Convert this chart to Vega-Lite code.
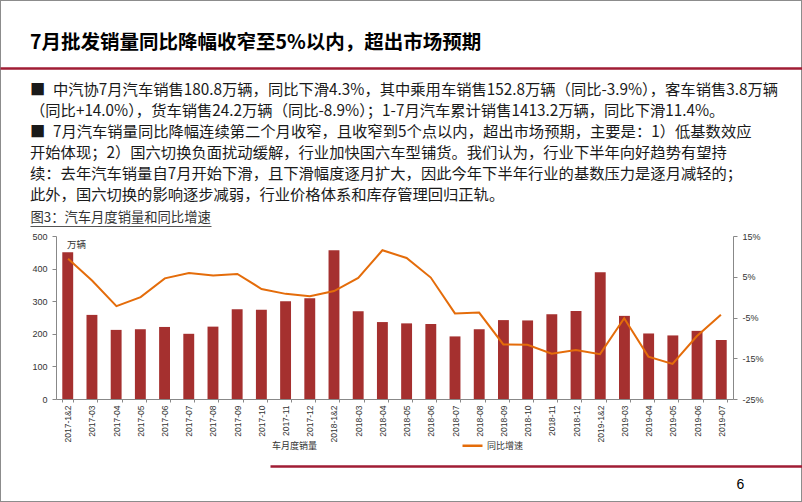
{
  "$schema": "https://vega.github.io/schema/vega-lite/v6.json",
  "width": 802,
  "height": 502,
  "autosize": {"type": "none"},
  "padding": 0,
  "background": "white",
  "config": {
    "view": {"stroke": "#8c8c8c", "strokeWidth": 2},
    "axis": {"grid": false}
  },
  "title": {
    "text": "7月批发销量同比降幅收窄至5%以内，超出市场预期",
    "subtitle": [
      "■\u2002中汽协7月汽车销售180.8万辆，同比下滑4.3%，其中乘用车销售152.8万辆（同比-3.9%），客车销售3.8万辆",
      "\u3000\u2009（同比+14.0%），货车销售24.2万辆（同比-8.9%）；1-7月汽车累计销售1413.2万辆，同比下滑11.4%。",
      "■\u20027月汽车销量同比降幅连续第二个月收窄，且收窄到5个点以内，超出市场预期，主要是：1）低基数效应",
      "\u3000\u2002开始体现；2）国六切换负面扰动缓解，行业加快国六车型铺货。我们认为，行业下半年向好趋势有望持",
      "\u3000\u2002续：去年汽车销量自7月开始下滑，且下滑幅度逐月扩大，因此今年下半年行业的基数压力是逐月减轻的；",
      "\u3000\u2002此外，国六切换的影响逐步减弱，行业价格体系和库存管理回归正轨。"
    ],
    "anchor": "start",
    "frame": "group",
    "orient": "top",
    "offset": 0,
    "dx": 30,
    "dy": 204,
    "font": "Noto Sans CJK SC",
    "fontSize": 19.5,
    "fontWeight": "bold",
    "color": "#000000",
    "subtitleFont": "Noto Sans CJK SC",
    "subtitleFontSize": 15.3,
    "subtitleColor": "#1a1a1a",
    "subtitlePadding": 29,
    "subtitleLineHeight": 21
  },
  "data": {
    "values": [
      {"month": "2017-1&2", "sales": 450, "yoy": 9.4},
      {"month": "2017-03", "sales": 258, "yoy": 4.0},
      {"month": "2017-04", "sales": 212, "yoy": -2.2},
      {"month": "2017-05", "sales": 214, "yoy": 0.0},
      {"month": "2017-06", "sales": 221, "yoy": 4.6},
      {"month": "2017-07", "sales": 200, "yoy": 5.9},
      {"month": "2017-08", "sales": 222, "yoy": 5.3},
      {"month": "2017-09", "sales": 275, "yoy": 5.7},
      {"month": "2017-10", "sales": 274, "yoy": 2.0},
      {"month": "2017-11", "sales": 300, "yoy": 0.8},
      {"month": "2017-12", "sales": 309, "yoy": 0.2},
      {"month": "2018-1&2", "sales": 456, "yoy": 1.5},
      {"month": "2018-03", "sales": 269, "yoy": 4.7},
      {"month": "2018-04", "sales": 236, "yoy": 11.5},
      {"month": "2018-05", "sales": 232, "yoy": 9.6},
      {"month": "2018-06", "sales": 230, "yoy": 4.8},
      {"month": "2018-07", "sales": 192, "yoy": -4.0},
      {"month": "2018-08", "sales": 214, "yoy": -3.8},
      {"month": "2018-09", "sales": 242, "yoy": -11.6},
      {"month": "2018-10", "sales": 241, "yoy": -11.7},
      {"month": "2018-11", "sales": 260, "yoy": -13.9},
      {"month": "2018-12", "sales": 270, "yoy": -13.0},
      {"month": "2019-1&2", "sales": 389, "yoy": -14.0},
      {"month": "2019-03", "sales": 255, "yoy": -5.2},
      {"month": "2019-04", "sales": 201, "yoy": -14.6},
      {"month": "2019-05", "sales": 195, "yoy": -16.4},
      {"month": "2019-06", "sales": 209, "yoy": -9.6},
      {"month": "2019-07", "sales": 181, "yoy": -4.3}
    ]
  },
  "resolve": {
    "scale": {"x": "independent", "y": "independent"},
    "axis": {"x": "independent", "y": "independent"}
  },
  "layer": [
    {
      "mark": {"type": "bar", "color": "#a5302f"},
      "encoding": {
        "x": {
          "field": "month",
          "type": "ordinal",
          "sort": null,
          "scale": {"range": [56, 733], "paddingInner": 0.55, "paddingOuter": 0.26},
          "axis": {
            "orient": "bottom",
            "offset": -103,
            "title": null,
            "labelAngle": -90,
            "labelFont": "Liberation Sans",
            "labelFontSize": 8.5,
            "labelColor": "#333333",
            "labelPadding": 3,
            "tickBand": "extent",
            "tickSize": 3,
            "tickColor": "#888888",
            "domainColor": "#888888"
          }
        },
        "y": {
          "field": "sales",
          "type": "quantitative",
          "scale": {"domain": [0, 500], "range": [399, 236], "nice": false},
          "axis": {
            "orient": "left",
            "offset": -56,
            "values": [0, 100, 200, 300, 400, 500],
            "labelFont": "Liberation Sans",
            "labelFontSize": 9,
            "labelColor": "#333333",
            "labelPadding": 5,
            "tickSize": 4,
            "tickColor": "#888888",
            "domainColor": "#888888",
            "title": "万辆",
            "titleAngle": 0,
            "titleX": 20,
            "titleY": 244,
            "titleAlign": "center",
            "titleBaseline": "middle",
            "titleFont": "Noto Sans CJK SC",
            "titleFontSize": 9.5,
            "titleFontWeight": "normal",
            "titleColor": "#333333"
          }
        }
      }
    },
    {
      "mark": {"type": "line", "strokeWidth": 2},
      "encoding": {
        "x": {
          "field": "month",
          "type": "ordinal",
          "sort": null,
          "scale": {"range": [56, 733], "paddingInner": 0.55, "paddingOuter": 0.26},
          "axis": null
        },
        "y": {
          "field": "yoy",
          "type": "quantitative",
          "scale": {"domain": [-25, 15], "range": [399, 236], "nice": false},
          "axis": {
            "orient": "right",
            "offset": -69,
            "values": [-25, -15, -5, 5, 15],
            "labelExpr": "datum.value + '%'",
            "labelFont": "Liberation Sans",
            "labelFontSize": 9,
            "labelColor": "#333333",
            "labelPadding": 5,
            "tickSize": 4,
            "tickColor": "#888888",
            "domainColor": "#888888",
            "title": null
          }
        },
        "color": {
          "datum": "同比增速",
          "type": "nominal",
          "scale": {"domain": ["车月度销量", "同比增速"], "range": ["#a5302f", "#e46c0a"]},
          "legend": {
            "title": null,
            "orient": "none",
            "legendX": 246,
            "legendY": 434,
            "direction": "horizontal",
            "symbolType": "stroke",
            "symbolSize": 400,
            "symbolStrokeWidth": 2.5,
            "labelFont": "Noto Sans CJK SC",
            "labelFontSize": 9,
            "labelColor": "#333333",
            "labelOffset": 3,
            "columnPadding": 139,
            "padding": 0,
            "encode": {
              "symbols": {"update": {"opacity": {"signal": "datum.value === '车月度销量' ? 0 : 1"}}}
            }
          }
        }
      }
    },
    {
      "data": {"values": [{"k": 0}]},
      "mark": {"type": "point", "opacity": 0},
      "encoding": {
        "x": {
          "field": "k",
          "type": "quantitative",
          "scale": {"domain": [0, 1], "range": [0, 802]},
          "axis": {
            "orient": "top",
            "offset": -68,
            "domain": true,
            "domainColor": "#a01d34",
            "domainWidth": 2.5,
            "ticks": false,
            "labels": false,
            "grid": false,
            "title": null
          }
        }
      }
    },
    {
      "data": {"values": [{"k": 0}]},
      "mark": {"type": "point", "opacity": 0},
      "encoding": {
        "x": {
          "field": "k",
          "type": "quantitative",
          "scale": {"domain": [0, 1], "range": [270, 802]},
          "axis": {
            "orient": "bottom",
            "offset": -36,
            "domain": true,
            "domainColor": "#a01d34",
            "domainWidth": 2.5,
            "ticks": false,
            "labels": false,
            "grid": false,
            "title": "6",
            "titleX": 740,
            "titleY": 18,
            "titleAngle": 0,
            "titleAlign": "center",
            "titleBaseline": "middle",
            "titleFont": "Liberation Sans",
            "titleFontSize": 14,
            "titleFontWeight": "normal",
            "titleColor": "#000000"
          }
        }
      }
    },
    {
      "data": {"values": [{"k": 0}]},
      "mark": {"type": "point", "opacity": 0},
      "encoding": {
        "x": {
          "field": "k",
          "type": "quantitative",
          "scale": {"domain": [0, 1], "range": [30, 211]},
          "axis": {
            "orient": "top",
            "offset": -226,
            "domain": true,
            "domainColor": "#555555",
            "domainWidth": 1,
            "ticks": false,
            "labels": false,
            "grid": false,
            "title": "图3：汽车月度销量和同比增速",
            "titleX": 30,
            "titleY": -9,
            "titleAngle": 0,
            "titleAlign": "left",
            "titleBaseline": "middle",
            "titleFont": "Noto Sans CJK SC",
            "titleFontSize": 13.3,
            "titleFontWeight": "normal",
            "titleColor": "#333333"
          }
        }
      }
    }
  ]
}
